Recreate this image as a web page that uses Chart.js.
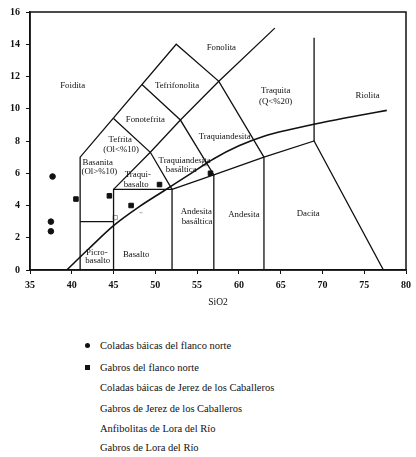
<!DOCTYPE html>
<html>
<head>
<meta charset="utf-8">
<script src="https://cdn.jsdelivr.net/npm/chart.js@4"></script>
<style>
  body { margin: 0; background: #fff; }
  #wrap { position: relative; width: 416px; height: 457px; }
  #tas { position: absolute; left: 0; top: 0; }
  #legend { position: absolute; left: 0; top: 0; width: 416px; font-family: "Liberation Serif", "DejaVu Serif", serif; font-size: 10.5px; color: #111; }
  .row { position: absolute; left: 100px; height: 12px; line-height: 12px; white-space: nowrap; }
  .mk { position: absolute; left: -15px; top: 3px; width: 5px; height: 5px; background: #111; }
  .mk.circle { border-radius: 50%; }
</style>
</head>
<body>
<div id="wrap">
  <canvas id="tas" width="416" height="310"></canvas>
  <div id="legend"></div>
</div>
<script>
// TAS diagram values (SiO2 vs Na2O+K2O)
const xTicks = [35, 40, 45, 50, 55, 60, 65, 70, 75, 80];
const yTicks = [0, 2, 4, 6, 8, 10, 12, 14, 16];

// field boundaries, each a polyline of [SiO2, alkalis]
const fieldLines = [
  [[41, 0], [41, 7], [52.5, 14], [57.6, 11.7], [63, 7]],
  [[41, 3], [45, 3]],
  [[45, 0], [45, 5], [52, 5], [52, 0]],
  [[45, 5], [49.4, 7.3], [53, 9.3], [57.6, 11.7], [64.3, 15]],
  [[45, 9.4], [49.4, 7.3], [52, 5]],
  [[48.4, 11.5], [53, 9.3], [57, 5.9], [57, 0]],
  [[52, 5], [57, 5.9], [63, 7], [69, 8], [77.3, 0]],
  [[63, 0], [63, 7]],
  [[69, 8], [69, 14.4]]
];

// alkaline / subalkaline divide
const alkalineCurve = [[39.4, 0], [42, 1.3], [45, 2.75], [48, 3.9], [51, 4.9], [54, 5.9], [57, 6.9], [60, 7.7], [63, 8.3], [66, 8.7], [70, 9.15], [74, 9.55], [77.7, 9.9]];

// field names and where they sit in data units
const fieldNames = ["Foidita", "Tefrifonolita", "Fonolita", "Fonotefrita", "Tefrita", "(Ol<%10)", "Traquita", "(Q<%20)", "Riolita",
  "Traquiandesita", "Basanita", "(Ol>%10)", "Traqui-", "basalto", "Traquiandesita", "basáltica", "Picro-", "basalto",
  "Basalto", "Andesita", "basáltica", "Andesita", "Dacita"];
const fieldNameAt = [[40.1, 11.4], [52.6, 11.4], [57.9, 13.8], [48.8, 9.3], [45.8, 8.1], [45.9, 7.45], [64.4, 11.1], [64.4, 10.45], [75.4, 10.8],
  [58.3, 8.25], [43.1, 6.65], [43.3, 6.1], [47.9, 5.9], [47.7, 5.3], [53.5, 6.75], [53.1, 6.2], [43.0, 1.1], [43.1, 0.55],
  [47.7, 0.95], [54.9, 3.6], [55.0, 3.0], [60.6, 3.4], [68.3, 3.5]];

// samples
const seriesNames = ["Coladas báicas del flanco norte", "Gabros del flanco norte", "Coladas báicas de Jerez de los Caballeros",
  "Gabros de Jerez de los Caballeros", "Anfibolitas de Lora del Río", "Gabros de Lora del Río"];
const coladasNorteSi = [37.7, 37.5, 37.5];
const coladasNorteAlk = [5.8, 3.0, 2.4];
const gabrosNorteSi = [40.5, 44.5, 47.1, 50.5, 56.6];
const gabrosNorteAlk = [4.4, 4.6, 4.0, 5.3, 6.0];
const coladasJerezSi = [45.2, 55.9];
const coladasJerezAlk = [3.25, 6.6];
const gabrosJerezSi = [48.1];
const gabrosJerezAlk = [3.55];

function toPoints(xs, ys) {
  return xs.map((x, i) => ({ x: x, y: ys[i] }));
}
function pairs(list) {
  return list.map((p) => ({ x: p[0], y: p[1] }));
}

const serif = "'Liberation Serif', 'DejaVu Serif', serif";

const lineSets = fieldLines.map((seg) => ({
  data: pairs(seg),
  showLine: true,
  borderColor: "#111",
  borderWidth: 1.3,
  pointRadius: 0,
  tension: 0
}));

const curveSet = {
  data: pairs(alkalineCurve),
  showLine: true,
  borderColor: "#111",
  borderWidth: 1.6,
  pointRadius: 0,
  cubicInterpolationMode: "monotone"
};

const sampleSets = [
  { data: toPoints(coladasNorteSi, coladasNorteAlk), pointStyle: "circle", pointRadius: 2.8, backgroundColor: "#111", borderColor: "#111" },
  { data: toPoints(gabrosNorteSi, gabrosNorteAlk), pointStyle: "rect", pointRadius: 3.2, backgroundColor: "#111", borderColor: "#111" },
  { data: toPoints(coladasJerezSi, coladasJerezAlk), pointStyle: "rect", pointRadius: 3, backgroundColor: "rgba(0,0,0,0)", borderColor: "#999", borderWidth: 1 },
  { data: toPoints(gabrosJerezSi, gabrosJerezAlk), pointStyle: "dash", pointRadius: 3, borderColor: "#aaa", borderWidth: 1 },
  { data: [], pointStyle: "triangle", pointRadius: 3 },
  { data: [], pointStyle: "rectRot", pointRadius: 3 }
].map((d, i) => Object.assign({ label: seriesNames[i] }, d));

const fieldText = {
  id: "fieldText",
  afterDatasetsDraw(chart) {
    const { ctx, chartArea, scales } = chart;
    ctx.save();
    ctx.strokeStyle = "#111";
    ctx.lineWidth = 1.5;
    ctx.strokeRect(chartArea.left, chartArea.top, chartArea.right - chartArea.left, chartArea.bottom - chartArea.top);
    ctx.fillStyle = "#111";
    ctx.font = "8.8px " + serif;
    ctx.textAlign = "center";
    ctx.textBaseline = "middle";
    fieldNames.forEach((name, i) => {
      const p = fieldNameAt[i];
      ctx.fillText(name, scales.x.getPixelForValue(p[0]), scales.y.getPixelForValue(p[1]));
    });
    ctx.restore();
  }
};

new Chart(document.getElementById("tas").getContext("2d"), {
  type: "scatter",
  data: { datasets: lineSets.concat([curveSet], sampleSets) },
  options: {
    responsive: false,
    animation: false,
    layout: { padding: { top: 12, right: 3, left: 0, bottom: 2 } },
    plugins: { legend: { display: false }, tooltip: { enabled: false } },
    scales: {
      x: {
        type: "linear",
        min: 35,
        max: 80,
        afterBuildTicks: (scale) => { scale.ticks = xTicks.map((v) => ({ value: v })); },
        afterFit: (scale) => { scale.height = 38; },
        grid: { drawOnChartArea: false, color: "#111", tickLength: 4 },
        border: { color: "#111", width: 1.5 },
        ticks: { color: "#111", padding: 5, font: { family: serif, size: 10, weight: "bold" } },
        title: { display: true, text: "SiO2", color: "#111", padding: 0, font: { family: serif, size: 9.5 } }
      },
      y: {
        type: "linear",
        min: 0,
        max: 16,
        afterBuildTicks: (scale) => { scale.ticks = yTicks.map((v) => ({ value: v })); },
        afterFit: (scale) => { scale.width = 30; },
        grid: { drawOnChartArea: false, color: "#111", tickLength: 4 },
        border: { color: "#111", width: 1.5 },
        ticks: { color: "#111", padding: 6, font: { family: serif, size: 10, weight: "bold" } }
      }
    }
  },
  plugins: [fieldText]
});

// legend list under the diagram
const legendRowsY = [346, 368, 388, 409, 429, 448];
const legendMarks = ["circle", "square", "", "", "", ""];
const legend = document.getElementById("legend");
seriesNames.forEach((name, i) => {
  const row = document.createElement("div");
  row.className = "row";
  row.style.top = (legendRowsY[i] - 6) + "px";
  if (legendMarks[i]) {
    const mk = document.createElement("span");
    mk.className = "mk " + legendMarks[i];
    row.appendChild(mk);
  }
  row.appendChild(document.createTextNode(name));
  legend.appendChild(row);
});
</script>
</body>
</html>
